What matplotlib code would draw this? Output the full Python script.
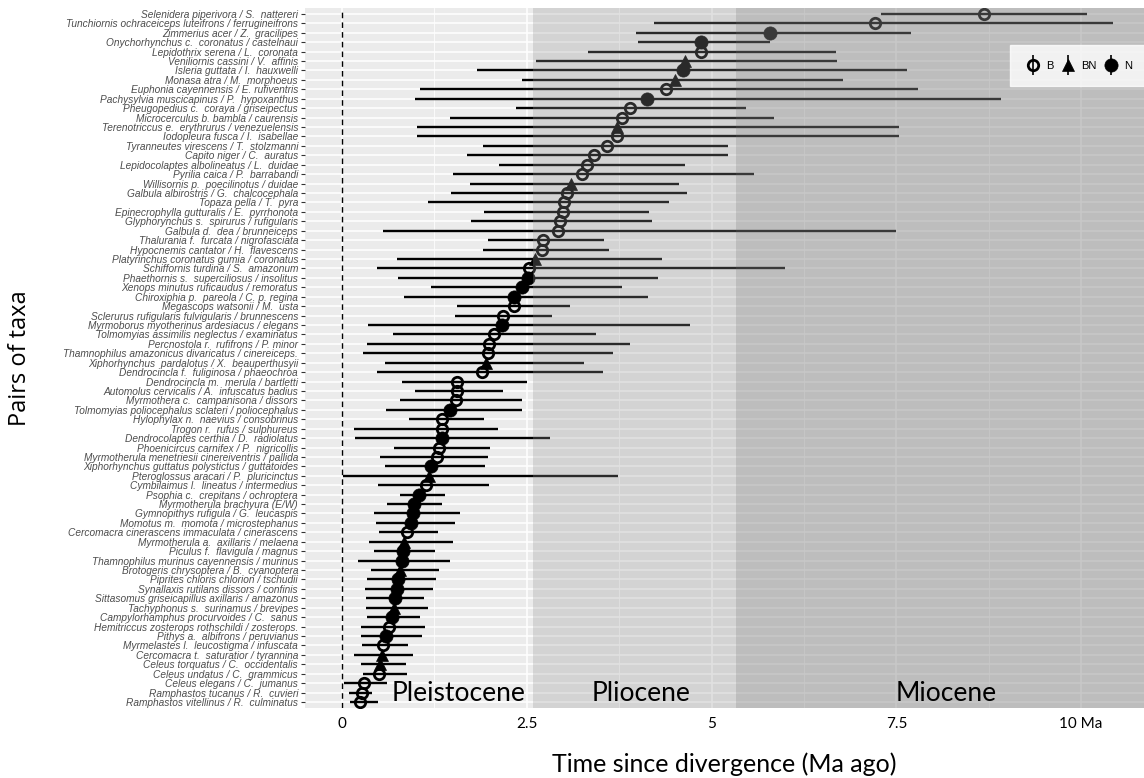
import numpy as np
import matplotlib
matplotlib.use('Agg')
import matplotlib.pyplot as plt
from matplotlib.lines import Line2D

# Pairs of taxa, top to bottom.
taxa = [
    'Selenidera piperivora / S.  nattereri',
    'Tunchiornis ochraceiceps luteifrons / ferrugineifrons',
    'Zimmerius acer / Z.  gracilipes',
    'Onychorhynchus c.  coronatus / castelnaui',
    'Lepidothrix serena / L.  coronata',
    'Veniliornis cassini / V.  affinis',
    'Isleria guttata / I.  hauxwelli',
    'Monasa atra / M.  morphoeus',
    'Euphonia cayennensis / E. rufiventris',
    'Pachysylvia muscicapinus / P.  hypoxanthus',
    'Pheugopedius c.  coraya / griseipectus',
    'Microcerculus b. bambla / caurensis',
    'Terenotriccus e.  erythrurus / venezuelensis',
    'Iodopleura fusca / I.  isabellae',
    'Tyranneutes virescens / T.  stolzmanni',
    'Capito niger / C.  auratus',
    'Lepidocolaptes albolineatus / L.  duidae',
    'Pyrilia caica / P.  barrabandi',
    'Willisornis p.  poecilinotus / duidae',
    'Galbula albirostris / G.  chalcocephala',
    'Topaza pella / T.  pyra',
    'Epinecrophylla gutturalis / E.  pyrrhonota',
    'Glyphorynchus s.  spirurus / rufigularis',
    'Galbula d.  dea / brunneiceps',
    'Thalurania f.  furcata / nigrofasciata',
    'Hypocnemis cantator / H.  flavescens',
    'Platyrinchus coronatus gumia / coronatus',
    'Schiffornis turdina / S.  amazonum',
    'Phaethornis s.  superciliosus / insolitus',
    'Xenops minutus ruficaudus / remoratus',
    'Chiroxiphia p.  pareola / C. p. regina',
    'Megascops watsonii / M.  usta',
    'Sclerurus rufigularis fulvigularis / brunnescens',
    'Myrmoborus myotherinus ardesiacus / elegans',
    'Tolmomyias assimilis neglectus / examinatus',
    'Percnostola r.  rufifrons / P. minor',
    'Thamnophilus amazonicus divaricatus / cinereiceps.',
    'Xiphorhynchus  pardalotus / X.  beauperthusyii',
    'Dendrocincla f.  fuliginosa / phaeochroa',
    'Dendrocincla m.  merula / bartletti',
    'Automolus cervicalis / A.  infuscatus badius',
    'Myrmothera c.  campanisona / dissors',
    'Tolmomyias poliocephalus sclateri / poliocephalus',
    'Hylophylax n.  naevius / consobrinus',
    'Trogon r.  rufus / sulphureus',
    'Dendrocolaptes certhia / D.  radiolatus',
    'Phoenicircus carnifex / P.  nigricollis',
    'Myrmotherula menetriesii cinereiventris / pallida',
    'Xiphorhynchus guttatus polystictus / guttatoides',
    'Pteroglossus aracari / P.  pluricinctus',
    'Cymbilaimus l.  lineatus / intermedius',
    'Psophia c.  crepitans / ochroptera',
    'Myrmotherula brachyura (E/W)',
    'Gymnopithys rufigula / G.  leucaspis',
    'Momotus m.  momota / microstephanus',
    'Cercomacra cinerascens immaculata / cinerascens',
    'Myrmotherula a.  axillaris / melaena',
    'Piculus f.  flavigula / magnus',
    'Thamnophilus murinus cayennensis / murinus',
    'Brotogeris chrysoptera / B.  cyanoptera',
    'Piprites chloris chlorion / tschudii',
    'Synallaxis rutilans dissors / confinis',
    'Sittasomus griseicapillus axillaris / amazonus',
    'Tachyphonus s.  surinamus / brevipes',
    'Campylorhamphus procurvoides / C.  sanus',
    'Hemitriccus zosterops rothschildi / zosterops.',
    'Pithys a.  albifrons / peruvianus',
    'Myrmelastes l.  leucostigma / infuscata',
    'Cercomacra t.  saturatior / tyrannina',
    'Celeus torquatus / C.  occidentalis',
    'Celeus undatus / C.  grammicus',
    'Celeus elegans / C.  jumanus',
    'Ramphastos tucanus / R.  cuvieri',
    'Ramphastos vitellinus / R.  culminatus',
]

# Divergence time estimate (Ma) and its interval.
div_time = [8.69, 7.21, 5.79, 4.86, 4.86, 4.64, 4.61, 4.51, 4.38, 4.13,
            3.89, 3.79, 3.72, 3.72, 3.58, 3.41, 3.32, 3.25, 3.10, 3.05,
            3.00, 2.99, 2.95, 2.92, 2.72, 2.71, 2.61, 2.53, 2.52, 2.43,
            2.33, 2.33, 2.18, 2.16, 2.06, 1.99, 1.98, 1.95, 1.89, 1.56,
            1.56, 1.54, 1.46, 1.36, 1.36, 1.35, 1.31, 1.29, 1.21, 1.18,
            1.14, 1.04, 0.98, 0.96, 0.94, 0.88, 0.84, 0.83, 0.81, 0.78,
            0.76, 0.74, 0.72, 0.70, 0.68, 0.64, 0.59, 0.55, 0.54, 0.52,
            0.50, 0.30, 0.27, 0.25]
lower = [7.29, 4.22, 3.98, 4.00, 3.33, 2.63, 1.83, 2.44, 1.05, 0.99,
         2.36, 1.46, 1.01, 1.01, 1.91, 1.69, 2.13, 1.50, 1.73, 1.47,
         1.17, 1.92, 1.74, 0.55, 1.98, 1.91, 0.75, 0.47, 0.76, 1.20,
         0.84, 1.56, 1.53, 0.35, 0.69, 0.34, 0.28, 0.58, 0.48, 0.81,
         0.99, 0.79, 0.60, 0.91, 0.16, 0.18, 0.71, 0.51, 0.58, 0.01,
         0.49, 0.78, 0.61, 0.43, 0.46, 0.50, 0.36, 0.44, 0.22, 0.39,
         0.34, 0.31, 0.33, 0.33, 0.34, 0.26, 0.26, 0.27, 0.16, 0.26,
         0.28, 0.03, 0.09, 0.11]
upper = [10.08, 10.43, 7.70, 5.79, 6.68, 6.70, 7.64, 6.78, 7.79, 8.91,
         5.47, 5.84, 7.54, 7.54, 5.22, 5.22, 4.64, 5.58, 4.56, 4.67,
         4.43, 4.16, 4.20, 7.49, 3.55, 3.61, 4.33, 5.99, 4.28, 3.79,
         4.14, 3.09, 2.84, 4.71, 3.43, 3.89, 3.66, 3.27, 3.53, 2.51,
         2.18, 2.44, 2.44, 1.92, 2.11, 2.81, 2.00, 1.97, 1.93, 3.74,
         1.99, 1.39, 1.36, 1.60, 1.53, 1.30, 1.50, 1.26, 1.46, 1.31,
         1.27, 1.23, 1.11, 1.16, 1.05, 1.13, 1.08, 0.89, 0.96, 0.86,
         0.88, 0.61, 0.41, 0.49]
category = ['B', 'B', 'N', 'N', 'B', 'BN', 'N', 'BN', 'B', 'N',
            'B', 'B', 'BN', 'B', 'B', 'B', 'B', 'B', 'BN', 'B',
            'B', 'B', 'B', 'B', 'B', 'B', 'BN', 'B', 'N', 'N',
            'N', 'B', 'B', 'N', 'B', 'B', 'B', 'BN', 'B', 'B',
            'B', 'B', 'N', 'B', 'B', 'N', 'B', 'B', 'N', 'BN',
            'B', 'N', 'N', 'N', 'N', 'B', 'BN', 'N', 'N', 'BN',
            'N', 'N', 'N', 'BN', 'N', 'B', 'N', 'B', 'BN', 'BN',
            'B', 'B', 'B', 'B']

epochs = ['Pleistocene', 'Pliocene', 'Miocene']
epoch_start = [0.0, 2.58, 5.33]
epoch_label_x = [1.58, 4.05, 8.17]

font_main = ['Lato', 'DejaVu Sans']

n = len(taxa)
y = np.arange(n)

fig = plt.figure(figsize=(11.44, 7.78), dpi=100)
ax = fig.add_axes([0.2666, 0.0904, 0.7334, 0.899])
ax.set_facecolor('#EBEBEB')

# ggplot style white grid
for v in [0, 2.5, 5, 7.5, 10]:
    ax.axvline(v, color='white', lw=1.1, zorder=1)
for v in [1.25, 3.75, 6.25, 8.75]:
    ax.axvline(v, color='white', lw=0.55, zorder=1)
for yy in y:
    ax.axhline(yy, color='white', lw=1.1, zorder=1)

ax.axvline(0, color='black', lw=1.0, ls=(0, (4, 3)), zorder=2)

# error bars and points
ax.hlines(y, lower, upper, color='black', lw=1.7, zorder=3)
style = {'B': dict(marker='o', mfc='none', mec='black', mew=2.0, ms=7.5),
         'BN': dict(marker='^', mfc='black', mec='black', mew=0.5, ms=9),
         'N': dict(marker='o', mfc='black', mec='black', mew=0.5, ms=9.5)}
for i in range(n):
    ax.plot(div_time[i], y[i], ls='none', zorder=4, **style[category[i]])

# epoch shading, drawn over the data like in the original
ax.axvspan(epoch_start[1], epoch_start[2], color='#989898', alpha=0.28,
           lw=0, zorder=5)
ax.axvspan(epoch_start[2], 11, color='#838383', alpha=0.44, lw=0, zorder=5)

for name, xpos in zip(epochs, epoch_label_x):
    ax.text(xpos, n - 1.9, name, ha='center', va='center',
            fontsize=19, family=font_main, color='black', zorder=6)

ax.set_xlim(-0.5, 10.85)
ax.set_ylim(n - 0.4, -0.6)

ax.set_yticks(y)
ax.set_yticklabels(taxa, fontsize=7.3, style='italic', color='#4D4D4D',
                   family=['Liberation Sans', 'DejaVu Sans'])
ax.set_xticks([0, 2.5, 5, 7.5, 10])
ax.set_xticklabels(['0', '2.5', '5', '7.5', '10 Ma'], fontsize=11,
                   family=font_main, color='black')
ax.tick_params(axis='y', length=3, width=0.8, color='#333333', pad=2)
ax.tick_params(axis='x', length=0, pad=7)
for s in ax.spines.values():
    s.set_visible(False)

ax.set_xlabel('Time since divergence (Ma ago)', fontsize=18,
              family=font_main, labelpad=15)
ax.set_ylabel('Pairs of taxa', fontsize=17,
              family=['Open Sans', 'DejaVu Sans'])
ax.yaxis.set_label_coords(-0.325, 0.5)

# legend with a vertical bar through each key, like ggplot pointrange keys
handles = []
for c in ['B', 'BN', 'N']:
    bar = Line2D([], [], marker='|', ls='none', color='black', ms=14, mew=1.2)
    pt = Line2D([], [], ls='none', **style[c])
    handles.append((bar, pt))
leg = ax.legend(handles, ['B', 'BN', 'N'], ncol=3, loc='upper left',
                bbox_to_anchor=(0.834, 0.955), frameon=True, fancybox=False,
                handlelength=1.3, handletextpad=0.5, columnspacing=0.7,
                borderpad=1.4, prop={'family': 'Liberation Sans', 'size': 8})
leg.get_frame().set_facecolor('white')
leg.get_frame().set_edgecolor('white')
leg.set_zorder(7)

plt.savefig('out.png', dpi=100)
